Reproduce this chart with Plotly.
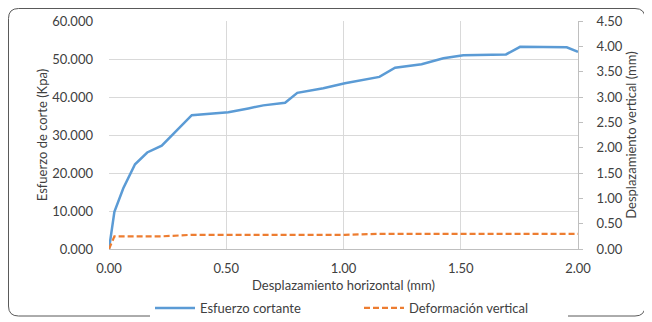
import plotly.graph_objects as go

x_mm = [0, 0.023, 0.061, 0.111, 0.163, 0.225, 0.353, 0.466, 0.509, 0.594, 0.658, 0.751,
        0.803, 0.914, 1.006, 1.153, 1.220, 1.333, 1.426, 1.511, 1.693, 1.753, 1.952, 2.00]
esfuerzo = [0, 9.8, 16.0, 22.3, 25.4, 27.2, 35.2, 35.7, 36.0, 37.0, 37.8, 38.5,
            41.1, 42.3, 43.6, 45.3, 47.7, 48.6, 50.2, 51.0, 51.2, 53.2, 53.1, 51.9]
deformacion = [0, 0.25, 0.25, 0.25, 0.25, 0.25, 0.28, 0.28, 0.28, 0.28, 0.28, 0.28,
               0.28, 0.28, 0.28, 0.30, 0.30, 0.30, 0.30, 0.30, 0.30, 0.30, 0.30, 0.30]

y_left_ticks = [0, 10, 20, 30, 40, 50, 60]
y_right_ticks = [0, 0.5, 1.0, 1.5, 2.0, 2.5, 3.0, 3.5, 4.0, 4.5]
x_ticks = [0, 0.5, 1.0, 1.5, 2.0]

# page body has an 8px default margin, so the figure is drawn 8px in from the top-left
OFF = 8
W, H = 652 - OFF, 322 - OFF
L, T = 109 - OFF, 21 - OFF
R, B = W - (578 - OFF), H - (249 - OFF)
pw, ph = W - L - R, H - T - B

FONT = "Lato"
TXT = "#404040"
FS = 13

fig = go.Figure()
fig.add_trace(go.Scatter(x=x_mm, y=esfuerzo, mode="lines", name="Esfuerzo cortante",
                         line=dict(color="#5B9BD5", width=2.5)))
fig.add_trace(go.Scatter(x=x_mm, y=deformacion, mode="lines", name="Deformación vertical",
                         yaxis="y2", line=dict(color="#ED7D31", width=2.2, dash="6px,3px")))

def P(px, py):
    a, b = (px - L) / pw, (H - B - py) / ph
    return f"{a:.5f},{b:.5f}"

# rounded outer border (figure pixel coords)
x0, y0, x1, y1, r = 0.5, 0.5, 637, 308, 10
path = (f"M {P(x0 + r, y0)} L {P(x1 - r, y0)} Q {P(x1, y0)} {P(x1, y0 + r)} "
        f"L {P(x1, y1 - r)} Q {P(x1, y1)} {P(x1 - r, y1)} "
        f"L {P(x0 + r, y1)} Q {P(x0, y1)} {P(x0, y1 - r)} "
        f"L {P(x0, y0 + r)} Q {P(x0, y0)} {P(x0 + r, y0)} Z")
fig.add_shape(type="path", path=path, xref="paper", yref="paper",
              line=dict(color="#595959", width=1), layer="below")

fig.update_layout(
    width=W, height=H,
    margin=dict(l=L, r=R, t=T, b=B, pad=0, autoexpand=False),
    paper_bgcolor="white", plot_bgcolor="white",
    font=dict(family=FONT, size=FS, color=TXT),
    showlegend=True,
    legend=dict(orientation="h", x=(150 - OFF) / W, xanchor="left", xref="container",
                y=(H - (308 - OFF)) / H, yanchor="middle", yref="container",
                font=dict(family=FONT, size=FS, color=TXT),
                itemwidth=40, entrywidthmode="pixels", entrywidth=154),
    xaxis=dict(range=[0, 2], tickvals=x_ticks, tickformat=".2f", automargin=False,
               showgrid=True, gridcolor="#D9D9D9", gridwidth=1,
               showline=True, linecolor="#BFBFBF", linewidth=1,
               zeroline=False, ticks="", ticklabelstandoff=7,
               title=dict(text="Desplazamiento horizontal (mm)", standoff=7,
                          font=dict(size=FS, color=TXT)),
               tickfont=dict(size=FS, color=TXT)),
    yaxis=dict(range=[0, 60], tickvals=y_left_ticks, tickformat=".3f", automargin=False,
               showgrid=True, gridcolor="#D9D9D9", gridwidth=1,
               showline=False, zeroline=False, ticks="", ticklabelstandoff=15,
               title=dict(text="Esfuerzo de corte (Kpa)", standoff=1,
                          font=dict(size=FS, color=TXT)),
               tickfont=dict(size=FS, color=TXT)),
    yaxis2=dict(range=[0, 4.5], tickvals=y_right_ticks, tickformat=".2f", automargin=False,
                overlaying="y", side="right", showgrid=False, zeroline=False,
                showline=True, linecolor="#BFBFBF", linewidth=1,
                ticks="outside", ticklen=4, tickcolor="#BFBFBF", ticklabelstandoff=11,
                title=dict(text="Desplazamiento vertical (mm)", standoff=2,
                           font=dict(size=FS, color=TXT)),
                tickfont=dict(size=FS, color=TXT)),
)

fig.write_html("out.html")
